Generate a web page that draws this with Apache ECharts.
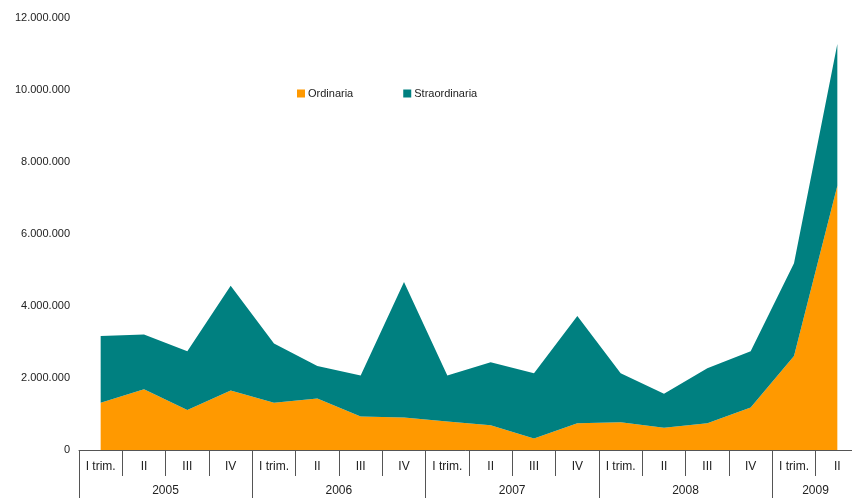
<!DOCTYPE html>
<html>
<head>
<meta charset="utf-8">
<script src="https://cdn.jsdelivr.net/npm/echarts@6/dist/echarts.min.js"></script>
<style>
    html, body { margin: 0; padding: 0; background: #fff; }
    #chart { width: 852px; height: 498px; }
</style>
</head>
<body>
<div id="chart"></div>
<script>
// dati (trimestri 2005 - II trim. 2009)
const quarters = [
    "I trim.", "II", "III", "IV",
    "I trim.", "II", "III", "IV",
    "I trim.", "II", "III", "IV",
    "I trim.", "II", "III", "IV",
    "I trim.", "II"
];
const years = ["2005", "2006", "2007", "2008", "2009"];
const quartersPerYear = [4, 4, 4, 4, 2];
const ordinaria = [
    1310000, 1690000, 1110000, 1650000,
    1310000, 1430000, 930000, 900000,
    790000, 690000, 320000, 740000,
    770000, 620000, 740000, 1180000,
    2610000, 7340000
];
const straordinaria = [
    1860000, 1520000, 1630000, 2910000,
    1650000, 900000, 1140000, 3770000,
    1280000, 1750000, 1810000, 2980000,
    1360000, 940000, 1530000, 1560000,
    2580000, 3940000
];
const yTicks = [0, 2000000, 4000000, 6000000, 8000000, 10000000, 12000000];

(function () {
    const my_chart = echarts.init(document.getElementById("chart"));
    const font = "Liberation Sans, Arial, sans-serif";
    const lineColor = "#555";

    // etichette anno: una per anno, messa a metà del gruppo di trimestri
    const yearLabels = quarters.map(() => "");
    let start = 0;
    years.forEach(function (y, i) {
        yearLabels[start + quartersPerYear[i] / 2 - 1] = y;
        start += quartersPerYear[i];
    });
    const yearStarts = [];
    start = 0;
    quartersPerYear.forEach(function (n) { yearStarts.push(start); start += n; });

    const option = {
        animation: false,
        textStyle: { fontFamily: font },
        legend: {
            left: 292,
            top: 83,
            itemWidth: 8,
            itemHeight: 8,
            itemGap: 50,
            selectedMode: false,
            icon: "rect",
            textStyle: { fontSize: 11, color: "#222", fontFamily: font, padding: [0, 0, 0, -2] },
            data: ["Ordinaria", "Straordinaria"]
        },
        grid: { left: 79, top: 18, width: 780, height: 432, outerBoundsMode: "none", containLabel: false },
        xAxis: [
            {
                type: "category",
                data: quarters,
                boundaryGap: true,
                axisLine: { show: true, lineStyle: { color: lineColor, width: 1 } },
                axisTick: { show: true, length: 26, interval: 0, lineStyle: { color: lineColor, width: 1 } },
                axisLabel: { interval: 0, margin: 11, fontSize: 12, color: "#222", fontFamily: font }
            },
            {
                type: "category",
                data: yearLabels,
                boundaryGap: true,
                position: "bottom",
                axisLine: { show: false },
                axisTick: {
                    show: true,
                    length: 50,
                    interval: function (i) { return yearStarts.indexOf(i) >= 0; },
                    lineStyle: { color: lineColor, width: 1 }
                },
                axisLabel: {
                    interval: 0,
                    margin: 35,
                    fontSize: 12,
                    color: "#222",
                    fontFamily: font,
                    padding: [0, 0, 0, 43] // sposta l'anno sul confine tra i due trimestri centrali
                }
            }
        ],
        yAxis: {
            type: "value",
            min: yTicks[0],
            max: yTicks[yTicks.length - 1],
            interval: yTicks[1] - yTicks[0],
            axisLine: { show: false },
            axisTick: { show: false },
            splitLine: { show: false },
            axisLabel: {
                margin: 9,
                fontSize: 11,
                color: "#222",
                fontFamily: font,
                formatter: function (v) { return String(v).replace(/\B(?=(\d{3})+(?!\d))/g, "."); }
            }
        },
        series: [
            {
                name: "Ordinaria",
                type: "line",
                stack: "tot",
                data: ordinaria,
                showSymbol: false,
                lineStyle: { width: 0 },
                itemStyle: { color: "#FF9900" },
                areaStyle: { color: "#FF9900", opacity: 1 }
            },
            {
                name: "Straordinaria",
                type: "line",
                stack: "tot",
                data: straordinaria,
                showSymbol: false,
                lineStyle: { width: 0 },
                itemStyle: { color: "#008080" },
                areaStyle: { color: "#008080", opacity: 1 }
            }
        ]
    };
    my_chart.setOption(option);
})();
</script>
</body>
</html>
